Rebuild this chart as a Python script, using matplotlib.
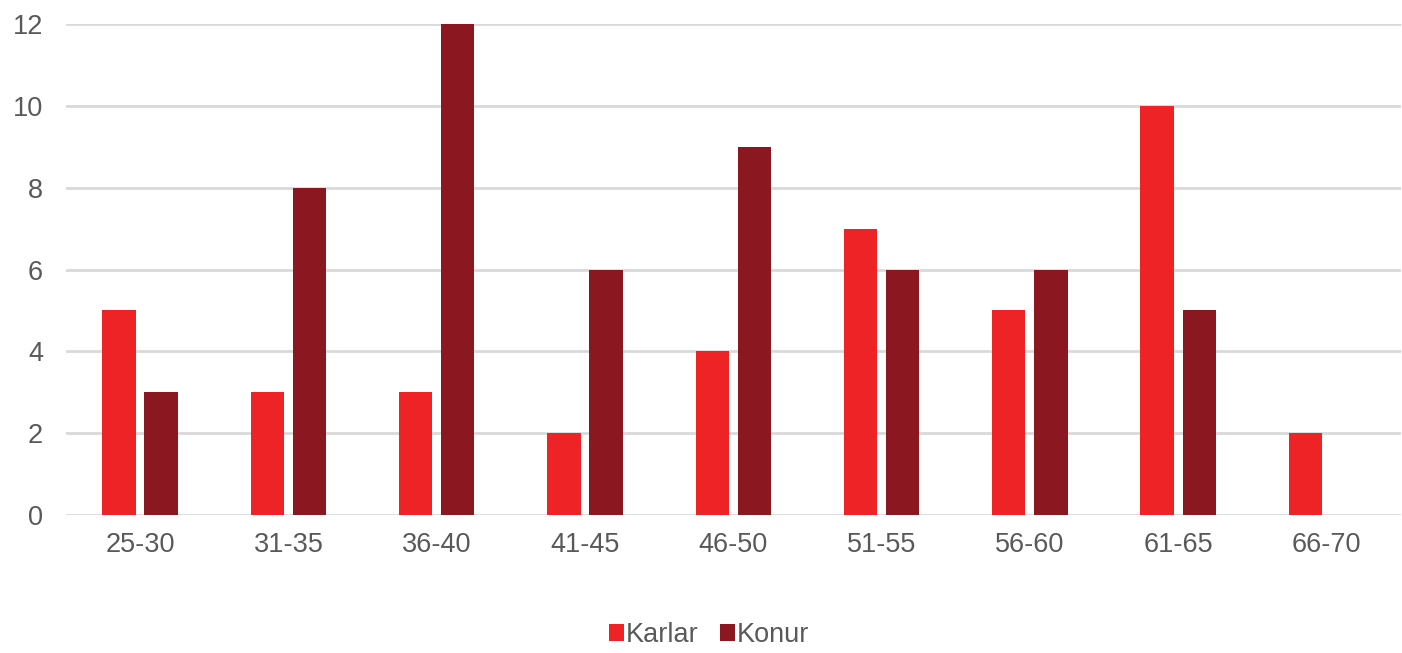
import matplotlib.pyplot as plt
import numpy as np

plt.rcParams['font.family'] = ['Liberation Sans', 'DejaVu Sans']

age_groups = ['25-30', '31-35', '36-40', '41-45', '46-50', '51-55', '56-60', '61-65', '66-70']
karlar = [5, 3, 3, 2, 4, 7, 5, 10, 2]
konur = [3, 8, 12, 6, 9, 6, 6, 5, 0]

fig = plt.figure(figsize=(14.02, 6.53), dpi=100)
ax = fig.add_axes([0.047, 0.2113, 0.952, 0.7519])

x = np.arange(len(age_groups))
w = 0.225
ax.bar(x - 0.142, karlar, w, color='#EE2326', label='Karlar', zorder=3)
ax.bar(x + 0.142, konur, w, color='#8B1721', label='Konur', zorder=3)

ax.set_xlim(-0.5, len(age_groups) - 0.5)
ax.set_ylim(0, 12)
ax.set_yticks(range(0, 13, 2))
ax.set_xticks(x)
ax.set_xticklabels(age_groups)
ax.yaxis.grid(True, color='#D9D9D9', linewidth=2, zorder=0)
ax.tick_params(axis='both', length=0, labelsize=19.5, colors='#595959')
ax.tick_params(axis='x', pad=12)
ax.tick_params(axis='y', pad=16.5)
for s in ax.spines.values():
    s.set_visible(False)

fig.legend(loc='lower center', bbox_to_anchor=(0.506, -0.03), ncol=2, frameon=False,
           fontsize=19.5, handlelength=0.55, handleheight=0.55, handletextpad=0.06,
           columnspacing=0.8, labelcolor='#595959')

fig.savefig('out.png', dpi=100)
